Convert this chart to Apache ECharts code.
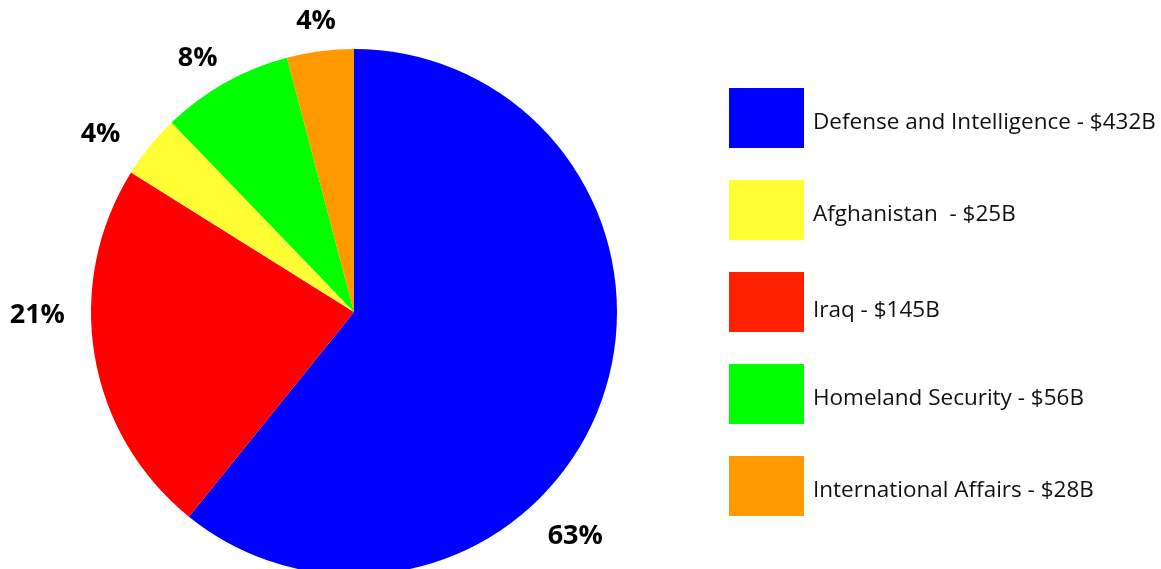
<!DOCTYPE html>
<html>
<head>
<meta charset="utf-8">
<script src="https://cdn.jsdelivr.net/npm/echarts@6/dist/echarts.min.js"></script>
<style>
html,body{margin:0;padding:0;background:#fff;}
#c{width:1161px;height:569px;}
</style>
</head>
<body>
<div id="c"></div>
<script>
// Pie slices in drawing (clockwise) order, legend texts as printed
const categories = [
  'Defense and Intelligence - $432B',
  'Iraq - $145B',
  'Afghanistan  - $25B',
  'Homeland Security - $56B',
  'International Affairs - $28B'
];
// Slice shares (percent of the circle) as drawn in the picture
const sliceShares = [60.8, 23.1, 3.9, 8.1, 4.1];
// Percentage labels as printed in the picture
const pctLabels = ['63%', '21%', '4%', '8%', '4%'];
const colors = ['#0000FF', '#FF0000', '#FFFF33', '#00FF00', '#FF9900'];
// Legend order as in the reference
const legendOrder = [
  'Defense and Intelligence - $432B',
  'Afghanistan  - $25B',
  'Iraq - $145B',
  'Homeland Security - $56B',
  'International Affairs - $28B'
];
const legendColors = {'Iraq - $145B': '#FF2000'};
const lowerLegendText = ['Iraq - $145B'];
// label nudges (style only)
const labelOffsets = [[-72, 121], [-10, -48], [-12, 18], [-4, 17], [2, 18]];

const chart = echarts.init(document.getElementById('c'), null, {renderer: 'canvas'});
const data = categories.map((n, i) => ({name: n, value: sliceShares[i], itemStyle: {color: colors[i]}}));
const labelData = categories.map((n, i) => ({
  name: n, value: sliceShares[i],
  itemStyle: {color: 'rgba(0,0,0,0)'},
  label: {offset: labelOffsets[i], formatter: pctLabels[i]}
}));

const txt = {fontFamily: 'Open Sans', fontSize: 22.5, color: '#111111'};

chart.setOption({
  animation: false,
  backgroundColor: '#ffffff',
  legend: {
    orient: 'vertical',
    left: 729,
    top: 88,
    padding: 0,
    itemWidth: 75,
    itemHeight: 60,
    itemGap: 32,
    icon: 'rect',
    data: legendOrder.map(n => legendColors[n] ? {name: n, itemStyle: {color: legendColors[n]}} : {name: n}),
    formatter: n => (lowerLegendText.indexOf(n) >= 0 ? '{r|' : '{t|') + n + '}',
    textStyle: {
      fontFamily: 'Open Sans',
      fontSize: 22.5,
      color: '#111111',
      rich: {
        t: Object.assign({padding: [9, 0, 0, 4]}, txt),
        r: Object.assign({padding: [17, 0, 0, 4]}, txt)
      }
    },
    selectedMode: false
  },
  series: [
    {
      type: 'pie',
      center: [354, 312],
      radius: [0, 263],
      startAngle: 90,
      clockwise: true,
      silent: true,
      label: {show: false},
      labelLine: {show: false},
      itemStyle: {borderWidth: 0},
      data: data
    },
    {
      type: 'pie',
      center: [354, 312],
      radius: [290, 326],
      startAngle: 90,
      clockwise: true,
      silent: true,
      legendHoverLink: false,
      label: {
        show: true,
        position: 'inside',
        fontFamily: 'Open Sans',
        fontWeight: 'bold',
        fontSize: 27,
        color: '#000000'
      },
      labelLine: {show: false},
      data: labelData
    }
  ]
});
</script>
</body>
</html>
